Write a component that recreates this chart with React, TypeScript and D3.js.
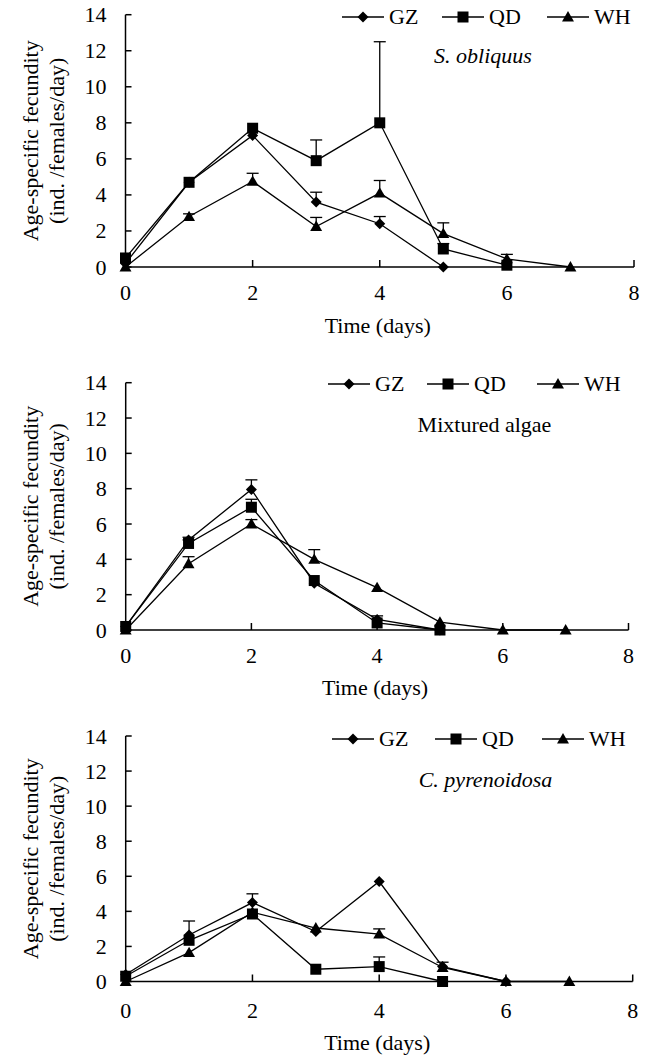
import React from 'react';
import * as d3 from 'd3';

const W = 654,
      H = 1059;

const FONT = '"Liberation Serif", "Times New Roman", serif';

// time axis (days)
const days = [0, 1, 2, 3, 4, 5, 6, 7];
const xTicks = [0, 2, 4, 6, 8];
const yTicks = [0, 2, 4, 6, 8, 10, 12, 14];
const seriesNames = ['GZ', 'QD', 'WH'];

// S. obliquus
const obliquusGZ = [0.2, 4.7, 7.3, 3.6, 2.4, 0, null, null];
const obliquusGZErr = [0, 0.1, 0.1, 0.55, 0.4, 0, 0, 0];
const obliquusQD = [0.5, 4.7, 7.7, 5.9, 8.0, 1.0, 0.1, null];
const obliquusQDErr = [0, 0.1, 0.1, 1.15, 4.5, 0.3, 0, 0];
const obliquusWH = [0, 2.8, 4.75, 2.25, 4.1, 1.85, 0.45, 0];
const obliquusWHErr = [0, 0.15, 0.45, 0.5, 0.7, 0.6, 0.25, 0];

// Mixtured algae
const mixedGZ = [0.2, 5.1, 7.95, 2.65, 0.6, 0, null, null];
const mixedGZErr = [0, 0.15, 0.55, 0.1, 0.2, 0, 0, 0];
const mixedQD = [0.2, 4.9, 6.95, 2.8, 0.4, 0, null, null];
const mixedQDErr = [0, 0.2, 0.45, 0.1, 0.1, 0, 0, 0];
const mixedWH = [0, 3.75, 6.0, 4.0, 2.4, 0.45, 0, 0];
const mixedWHErr = [0, 0.4, 0.25, 0.55, 0.1, 0.05, 0, 0];

// C. pyrenoidosa
const pyrenGZ = [0.4, 2.65, 4.5, 2.85, 5.7, 0.85, 0, null];
const pyrenGZErr = [0, 0.8, 0.5, 0.1, 0.1, 0.1, 0, 0];
const pyrenQD = [0.3, 2.35, 3.85, 0.7, 0.85, 0, null, null];
const pyrenQDErr = [0, 0.1, 0.1, 0.05, 0.55, 0, 0, 0];
const pyrenWH = [0, 1.65, 3.95, 3.05, 2.7, 0.8, 0, 0];
const pyrenWHErr = [0, 0.1, 0.1, 0.1, 0.3, 0.3, 0, 0];

const panels = [
    {
        title: 'S. obliquus', italic: true,
        box: { left: 125.5, right: 634, top: 14.7, bottom: 267 },
        titlePos: [483, 63],
        legendX: [342, 442, 547], legendY: 17,
        series: [[obliquusGZ, obliquusGZErr], [obliquusQD, obliquusQDErr], [obliquusWH, obliquusWHErr]],
        labelY: 300, titleY: 333,
    },
    {
        title: 'Mixtured algae', italic: false,
        box: { left: 125.7, right: 628.5, top: 382.7, bottom: 630 },
        titlePos: [484.5, 431.5],
        legendX: [328, 427, 537], legendY: 384,
        series: [[mixedGZ, mixedGZErr], [mixedQD, mixedQDErr], [mixedWH, mixedWHErr]],
        labelY: 663, titleY: 695,
    },
    {
        title: 'C. pyrenoidosa', italic: true,
        box: { left: 125.7, right: 632.7, top: 736, bottom: 981.5 },
        titlePos: [485.5, 787],
        legendX: [332, 435, 542], legendY: 739,
        series: [[pyrenGZ, pyrenGZErr], [pyrenQD, pyrenQDErr], [pyrenWH, pyrenWHErr]],
        labelY: 1018, titleY: 1050,
    },
];

const Marker = ({ kind, x, y }) => {
    if (kind === 0) {
        const r = 5.5;
        return <path d={`M${x},${y - r}L${x + r},${y}L${x},${y + r}L${x - r},${y}Z`} fill="#000" />;
    }
    if (kind === 1) {
        const s = 5.5;
        return <rect x={x - s} y={y - s} width={2 * s} height={2 * s} fill="#000" />;
    }
    const sym = d3.symbol().type(d3.symbolTriangle).size(62)();
    return <path d={sym} transform={`translate(${x},${y + 1})`} fill="#000" />;
};

const Panel = ({ p }) => {
    const { left, right, top, bottom } = p.box;
    const x = d3.scaleLinear().domain([0, 8]).range([left, right]);
    const y = d3.scaleLinear().domain([0, 14]).range([bottom, top]);
    const line = d3.line()
        .defined(d => d[1] != null)
        .x(d => x(d[0]))
        .y(d => y(d[1]));
    const midY = (top + bottom) / 2;

    return (
        <g>
            {/* y label */}
            <text transform={`translate(38,${midY}) rotate(-90)`} textAnchor="middle"
                  fontSize={22} fontFamily={FONT}>Age-specific fecundity</text>
            <text transform={`translate(64,${midY}) rotate(-90)`} textAnchor="middle"
                  fontSize={22} fontFamily={FONT}>(ind. /females/day)</text>

            {/* axes */}
            <line x1={left} x2={left} y1={top} y2={bottom} stroke="#000" strokeWidth={1.5} />
            <line x1={left} x2={right} y1={bottom} y2={bottom} stroke="#000" strokeWidth={1.5} />
            {yTicks.map(t => (
                <g key={'y' + t}>
                    <line x1={left} x2={left + 6} y1={y(t)} y2={y(t)} stroke="#000" strokeWidth={1.5} />
                    <text x={left - 19} y={y(t) + 7.5} textAnchor="end" fontSize={22} fontFamily={FONT}>{t}</text>
                </g>
            ))}
            {xTicks.map(t => (
                <g key={'x' + t}>
                    {t > 0 && <line x1={x(t)} x2={x(t)} y1={bottom} y2={bottom - 7} stroke="#000" strokeWidth={1.5} />}
                    <text x={x(t)} y={p.labelY} textAnchor="middle" fontSize={22} fontFamily={FONT}>{t}</text>
                </g>
            ))}
            <text x={(left + right) / 2 - 2} y={p.titleY} textAnchor="middle" fontSize={22} fontFamily={FONT}>Time (days)</text>

            {/* subtitle */}
            <text x={p.titlePos[0]} y={p.titlePos[1]} textAnchor="middle" fontSize={22}
                  fontStyle={p.italic ? 'italic' : 'normal'} fontFamily={FONT}>{p.title}</text>

            {/* series */}
            {p.series.map(([vals, errs], si) => {
                const pts = days.map((d, i) => [d, vals[i]]);
                return (
                    <g key={'s' + si}>
                        <path d={line(pts)} fill="none" stroke="#000" strokeWidth={1.3} />
                        {pts.filter(d => d[1] != null && errs[d[0]] > 0.12).map(d => {
                            const yt = y(d[1] + errs[d[0]]);
                            return (
                                <g key={'e' + d[0]}>
                                    <line x1={x(d[0])} x2={x(d[0])} y1={y(d[1])} y2={yt} stroke="#000" strokeWidth={1.3} />
                                    <line x1={x(d[0]) - 6} x2={x(d[0]) + 6} y1={yt} y2={yt} stroke="#000" strokeWidth={1.3} />
                                </g>
                            );
                        })}
                    </g>
                );
            })}
            {p.series.map(([vals], si) => (
                <g key={'m' + si}>
                    {days.filter((d, i) => vals[i] != null).map(d => (
                        <Marker key={d} kind={si} x={x(d)} y={y(vals[d])} />
                    ))}
                </g>
            ))}

            {/* legend */}
            {seriesNames.map((name, i) => {
                const lx = p.legendX[i];
                return (
                    <g key={name}>
                        <line x1={lx} x2={lx + 42} y1={p.legendY} y2={p.legendY} stroke="#000" strokeWidth={1.3} />
                        <Marker kind={i} x={lx + 21} y={p.legendY} />
                        <text x={lx + 47} y={p.legendY + 6.5} fontSize={22} fontFamily={FONT}>{name}</text>
                    </g>
                );
            })}
        </g>
    );
};

const App = () => (
    <svg width={W} height={H} viewBox={`0 0 ${W} ${H}`}
         style={{ position: 'absolute', left: 0, top: 0, background: '#fff' }}>
        <rect width={W} height={H} fill="#fff" />
        {panels.map((p, i) => <Panel key={i} p={p} />)}
    </svg>
);

export default App;
